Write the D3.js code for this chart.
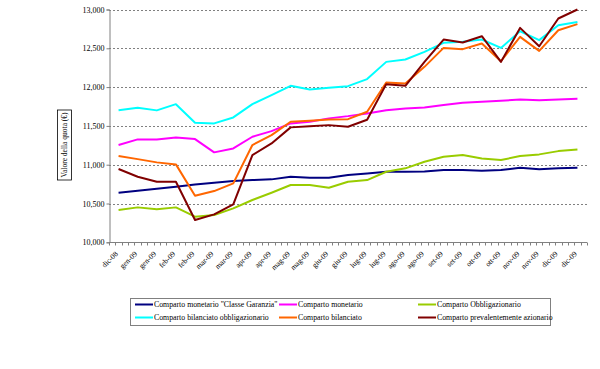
<!DOCTYPE html>
<html><head><meta charset="utf-8">
<script src="https://cdn.jsdelivr.net/npm/d3@7"></script>
<style>body{margin:0;background:#fff}svg{display:block}text{font-family:"Liberation Serif","Times New Roman",serif;fill:#000}</style>
</head><body><div id="c"></div>
<script>
const categories = ["dic-08","gen-09","gen-09","feb-09","feb-09","mar-09","mar-09","apr-09","apr-09","mag-09","mag-09","giu-09","giu-09","lug-09","lug-09","ago-09","ago-09","set-09","set-09","ott-09","ott-09","nov-09","nov-09","dic-09","dic-09"];
const seriesNames = ["Comparto monetario \"Classe Garanzia\"","Comparto monetario","Comparto Obbligazionario","Comparto bilanciato obbligazionario","Comparto bilanciato","Comparto prevalentemente azionario"];
const seriesColors = ["#000080","#FF00FF","#99CC00","#00FFFF","#FF6600","#800000"];
const monetarioGaranzia = [10639,10665,10690,10715,10745,10767,10789,10802,10811,10845,10832,10832,10866,10888,10909,10909,10912,10931,10931,10922,10931,10961,10940,10953,10961];
const monetario = [11253,11326,11326,11352,11330,11159,11210,11360,11433,11532,11553,11597,11626,11661,11703,11725,11738,11768,11797,11810,11823,11841,11832,11841,11849];
const obbligazionario = [10416,10450,10425,10450,10330,10351,10437,10545,10639,10738,10738,10703,10780,10802,10909,10953,11038,11102,11124,11081,11060,11111,11133,11175,11197];
const bilObbligazionario = [11703,11733,11700,11780,11540,11532,11609,11781,11897,12016,11970,11991,12012,12103,12325,12356,12454,12570,12583,12613,12505,12720,12605,12798,12840];
const bilanciato = [11111,11072,11030,11004,10600,10660,10760,11253,11381,11553,11566,11583,11587,11682,12060,12047,12261,12505,12489,12562,12334,12647,12467,12733,12811];
const azionario = [10944,10845,10780,10780,10287,10360,10489,11124,11274,11481,11495,11510,11489,11580,12038,12016,12325,12613,12575,12656,12325,12763,12527,12884,13000];
const yTicks = [10000,10500,11000,11500,12000,12500,13000];
const yTitle = "Valore della quota (€)";

const allSeries = [monetarioGaranzia, monetario, obbligazionario, bilObbligazionario, bilanciato, azionario];
const W = 600, H = 369;
const svg = d3.select("#c").append("svg").attr("width", W).attr("height", H);
const x0 = 109, x1 = 587, yTop = 9.5, yBot = 242.3;
const x = d3.scaleBand().domain(d3.range(categories.length)).range([x0, x1]);
const y = d3.scaleLinear().domain([10000, 13000]).range([yBot, yTop]);

// gridlines
svg.append("g").selectAll("line").data(yTicks.filter(d => d > 10000)).join("line")
  .attr("x1", x0).attr("x2", x1).attr("y1", d => Math.round(y(d)) + 0.5).attr("y2", d => Math.round(y(d)) + 0.5)
  .attr("stroke", "#808080").attr("stroke-width", 1).attr("stroke-dasharray", "2,2");

// y axis
const yAxis = d3.axisLeft(y).tickValues(yTicks).tickSize(3).tickFormat(d3.format(","));
const gy = svg.append("g").attr("transform", `translate(${x0 + 0.5},0)`).call(yAxis);
gy.select(".domain").attr("stroke", "#808080");
gy.selectAll(".tick line").attr("stroke", "#808080");
gy.selectAll(".tick text").attr("font-size", 8).attr("x", -5).attr("font-family", "Liberation Serif");

// x axis
const gx = svg.append("g").attr("transform", `translate(0,${Math.round(yBot) + 0.5})`);
gx.append("line").attr("x1", x0).attr("x2", x1).attr("stroke", "#808080");
const bw = x.bandwidth();
const tickPos = d3.range(categories.length * 3 + 1).map(i => x0 + i * bw / 3);
gx.selectAll("line.t").data(tickPos).join("line").attr("class", "t")
  .attr("x1", d => Math.round(d) + 0.5).attr("x2", d => Math.round(d) + 0.5).attr("y1", 0).attr("y2", 3)
  .attr("stroke", "#808080");
gx.selectAll("text").data(categories).join("text")
  .attr("transform", (d, i) => `translate(${x(i) + bw / 2 - 2},${10}) rotate(-45)`)
  .attr("text-anchor", "end").attr("dy", "0.35em").attr("font-size", 7.5).text(d => d);

// lines
const line = d3.line().x((d, i) => x(i) + bw / 2).y(d => y(d));
svg.append("g").selectAll("path").data(allSeries).join("path")
  .attr("d", d => line(d)).attr("fill", "none")
  .attr("stroke", (d, i) => seriesColors[i]).attr("stroke-width", 2).attr("stroke-linejoin", "round");

// y title with box
const tb = svg.append("g").attr("transform", "translate(64.5,145)");
tb.append("rect").attr("x", -7).attr("y", -35).attr("width", 14).attr("height", 70)
  .attr("fill", "#fff").attr("stroke", "#000").attr("stroke-width", 0.8);
tb.append("text").attr("transform", "rotate(-90)").attr("text-anchor", "middle").attr("dy", "0.35em")
  .attr("font-size", 7.5).text(yTitle);

// legend
const lg = svg.append("g");
lg.append("rect").attr("x", 130.5).attr("y", 298.5).attr("width", 420).attr("height", 27)
  .attr("fill", "#fff").attr("stroke", "#808080").attr("stroke-width", 1);
const colX = [135, 279, 418];
const rowY = [304.5, 317.5];
seriesNames.forEach((n, i) => {
  const cx = colX[i % 3], cy = rowY[Math.floor(i / 3)];
  lg.append("line").attr("x1", cx).attr("x2", cx + 18).attr("y1", cy).attr("y2", cy)
    .attr("stroke", seriesColors[i]).attr("stroke-width", 2);
  lg.append("text").attr("x", cx + 19).attr("y", cy).attr("dy", "0.35em").attr("font-size", 7.8).text(n);
});
</script></body></html>
